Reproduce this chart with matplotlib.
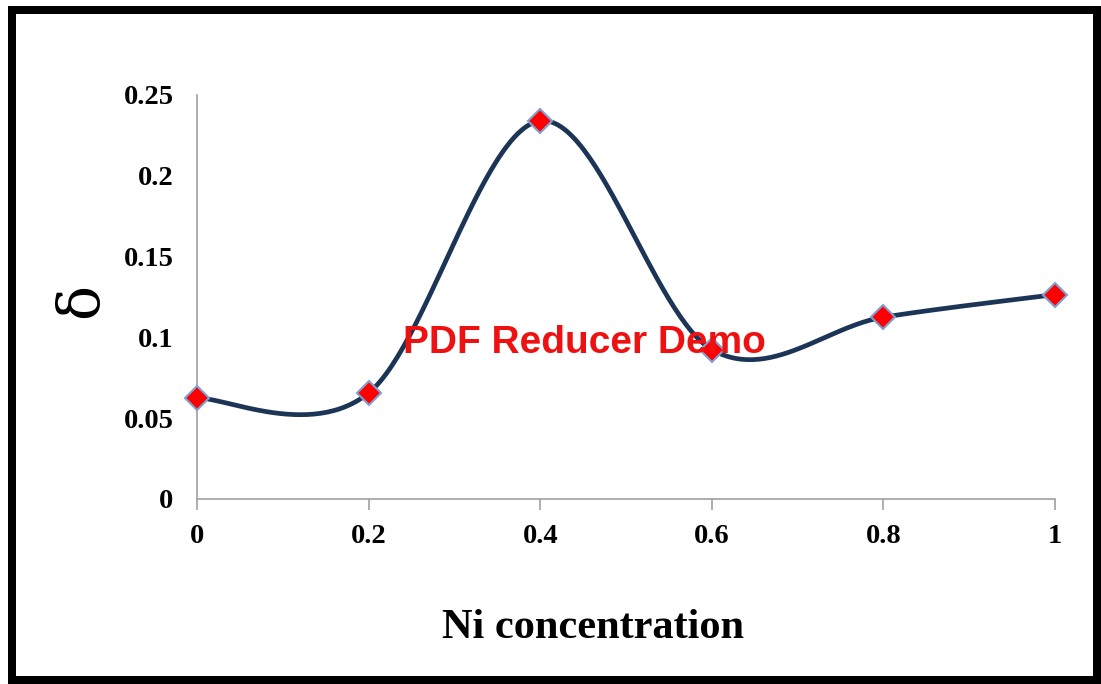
"""
delta vs Ni concentration, smoothed line like Excel
"""
import numpy as np
import matplotlib
matplotlib.use('Agg')
import matplotlib.pyplot as plt
from matplotlib.patches import Rectangle

# data
ni_conc = [0, 0.2, 0.4, 0.6, 0.8, 1.0]
delta = [0.0625, 0.0656, 0.234, 0.0925, 0.1125, 0.1265]
x_ticks = [0, 0.2, 0.4, 0.6, 0.8, 1.0]
x_tick_labels = ['0', '0.2', '0.4', '0.6', '0.8', '1']
y_ticks = [0, 0.05, 0.1, 0.15, 0.2, 0.25]
y_tick_labels = ['0', '0.05', '0.1', '0.15', '0.2', '0.25']


def smooth_curve(xs, ys, n=60):
    # excel style smoothing: cubic bezier, control points from neighbours / 6
    px = np.array(xs, dtype=float)
    py = np.array(ys, dtype=float)
    out_x, out_y = [], []
    t = np.linspace(0, 1, n)
    for i in range(len(px) - 1):
        i0 = max(i - 1, 0)
        i3 = min(i + 2, len(px) - 1)
        c1x = px[i] + (px[i + 1] - px[i0]) / 6
        c1y = py[i] + (py[i + 1] - py[i0]) / 6
        c2x = px[i + 1] - (px[i3] - px[i]) / 6
        c2y = py[i + 1] - (py[i3] - py[i]) / 6
        bx = (1 - t) ** 3 * px[i] + 3 * (1 - t) ** 2 * t * c1x + 3 * (1 - t) * t ** 2 * c2x + t ** 3 * px[i + 1]
        by = (1 - t) ** 3 * py[i] + 3 * (1 - t) ** 2 * t * c1y + 3 * (1 - t) * t ** 2 * c2y + t ** 3 * py[i + 1]
        out_x.extend(bx)
        out_y.extend(by)
    return out_x, out_y


fig = plt.figure(figsize=(11.01, 6.84), dpi=100)
fig.patch.set_facecolor('white')
ax = fig.add_axes([197 / 1101, 1 - 499 / 684, (1055 - 197) / 1101, (499 - 95) / 684])

sx, sy = smooth_curve(ni_conc, delta)
ax.plot(sx, sy, color='#1c3557', linewidth=3.4, zorder=2, solid_capstyle='round', clip_on=False)
ax.plot(ni_conc, delta, linestyle='none', marker='D', markersize=12,
        markerfacecolor='#ff0000', markeredgecolor='#7f9fd0', markeredgewidth=1.5,
        zorder=3, clip_on=False)

ax.set_xlim(0, 1)
ax.set_ylim(0, 0.25)
ax.set_xticks(x_ticks)
ax.set_xticklabels(x_tick_labels)
ax.set_yticks(y_ticks)
ax.set_yticklabels(y_tick_labels)

for side in ['top', 'right']:
    ax.spines[side].set_visible(False)
for side in ['left', 'bottom']:
    ax.spines[side].set_color('#a0a0a0')
    ax.spines[side].set_linewidth(1.2)

ax.tick_params(axis='x', direction='out', length=8, width=1.2, color='#a0a0a0', pad=10)
ax.tick_params(axis='y', length=0, pad=17)
for lab in ax.get_xticklabels() + ax.get_yticklabels():
    lab.set_fontfamily('Liberation Serif')
    lab.set_fontweight('bold')
    lab.set_fontsize(20.5)

fig.text(593 / 1101, 1 - 628 / 684, 'Ni concentration', fontfamily='Liberation Serif',
         fontweight='bold', fontsize=30.5, ha='center', va='center')
fig.text(81 / 1101, 1 - 300 / 684, 'δ', fontfamily='DejaVu Serif', fontsize=42,
         rotation=90, ha='center', va='center')

# watermark
fig.text(403 / 1101, 1 - 343 / 684, 'PDF Reducer Demo', color='#ee1111',
         fontfamily='Liberation Sans', fontweight='bold', fontsize=28,
         ha='left', va='center', zorder=5)

# black frame
frame = [(8, 6, 1093, 8), (8, 6, 8, 678), (1093, 6, 8, 678), (8, 676, 1093, 8)]
for x0, y0, w, h in frame:
    fig.patches.append(Rectangle((x0 / 1101, 1 - (y0 + h) / 684), w / 1101, h / 684,
                                 transform=fig.transFigure, facecolor='black',
                                 edgecolor='none', zorder=10))

fig.savefig('out.png', dpi=100)
